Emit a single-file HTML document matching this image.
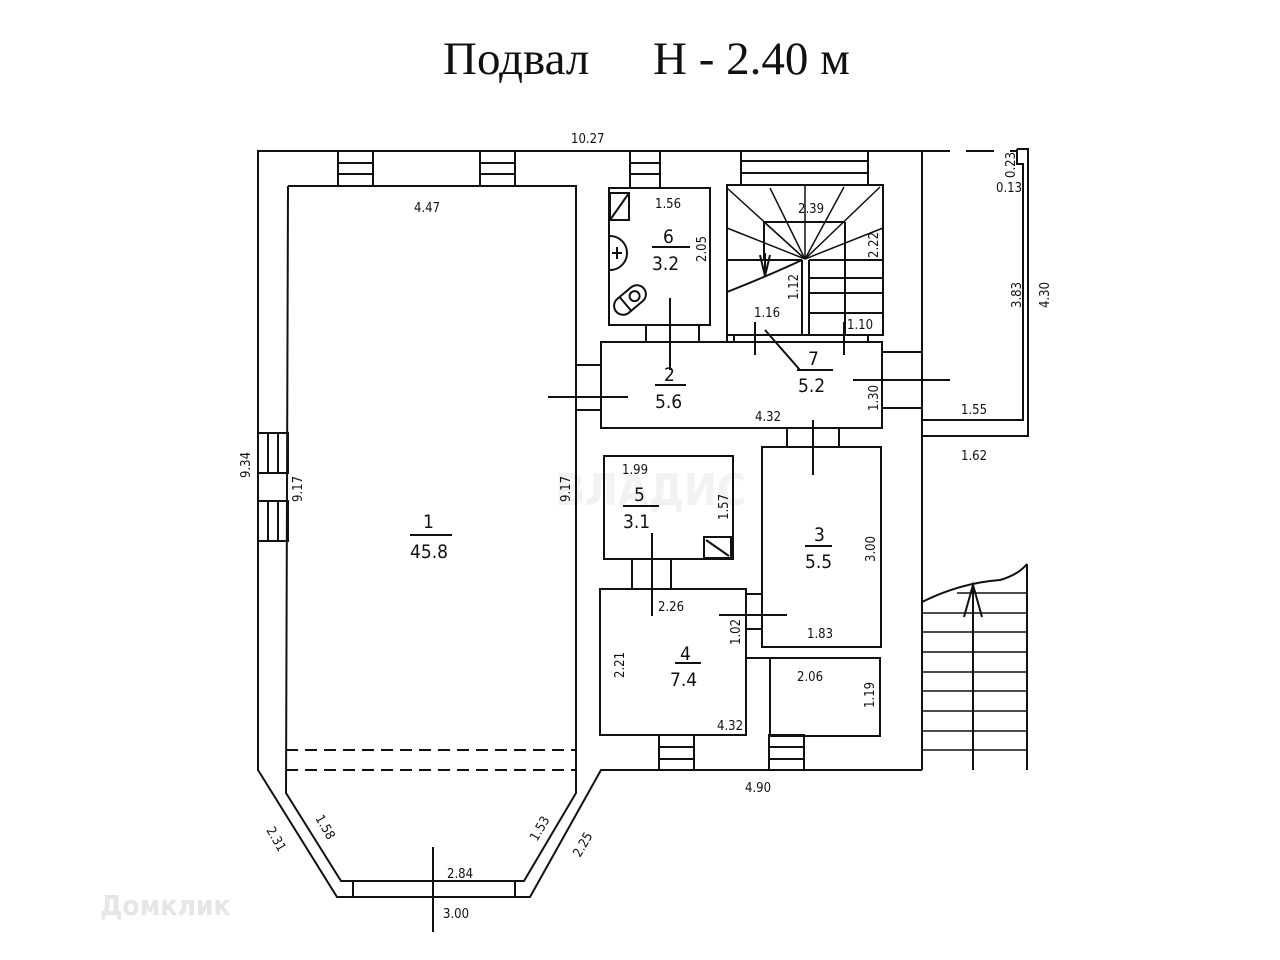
<!DOCTYPE html>
<html><head><meta charset="utf-8"><style>
html,body{margin:0;padding:0;background:#fff;}
svg{display:block;}
text{font-family:"DejaVu Sans Condensed","DejaVu Sans","Liberation Sans",sans-serif;font-size:13px;fill:#111;}
.big{font-size:19px;}
.t{font-family:"Liberation Serif",serif;font-size:47px;}
</style></head><body>
<svg width="1280" height="960" viewBox="0 0 1280 960" xmlns="http://www.w3.org/2000/svg">
<text x="555" y="505" style="font-size:44px;fill:#f2f2f2;font-weight:bold">ВЛАДИС</text>
<text x="100" y="915" style="font-size:28px;fill:#e6e6e6;font-weight:bold">Домклик</text>
<g stroke="#111" stroke-width="2" fill="none">
<polyline points="922,151 258,151 258,770 337,897 530,897 601,770 922,770"/>
<line x1="922" y1="151" x2="1017" y2="151" stroke-dasharray="28,16"/>
<polyline points="1017,149 1028,149 1028,436 922,436"/>
<polyline points="1017,149 1017,164 1023,164 1023,420 922,420"/>
<line x1="922" y1="151" x2="922" y2="770"/>
<polyline points="288,186 576,186 576,793 524,881 341,881 286,793 288,186"/>
<line x1="353" y1="881" x2="353" y2="897"/><line x1="515" y1="881" x2="515" y2="897"/>
<line x1="286" y1="750" x2="576" y2="750" stroke-dasharray="12,7"/>
<line x1="286" y1="770" x2="576" y2="770" stroke-dasharray="12,7"/>
<line x1="433" y1="847" x2="433" y2="932"/>
<rect x="338" y="151" width="35" height="35"/><line x1="338" y1="163" x2="373" y2="163"/><line x1="338" y1="174" x2="373" y2="174"/>
<rect x="480" y="151" width="35" height="35"/><line x1="480" y1="163" x2="515" y2="163"/><line x1="480" y1="174" x2="515" y2="174"/>
<rect x="630" y="151" width="30" height="37"/><line x1="630" y1="163" x2="660" y2="163"/><line x1="630" y1="174" x2="660" y2="174"/>
<rect x="741" y="151" width="127" height="34"/><line x1="741" y1="161" x2="868" y2="161"/><line x1="741" y1="173" x2="868" y2="173"/>
<rect x="258" y="433" width="30" height="40"/><line x1="268" y1="433" x2="268" y2="473"/><line x1="278" y1="433" x2="278" y2="473"/>
<rect x="258" y="501" width="30" height="40"/><line x1="268" y1="501" x2="268" y2="541"/><line x1="278" y1="501" x2="278" y2="541"/>
<rect x="609" y="188" width="101" height="137"/>
<rect x="610" y="193" width="19" height="27"/><line x1="610" y1="220" x2="629" y2="193"/>
<path d="M610 236 A12 12 0 0 1 610 270"/><line x1="612" y1="253" x2="622" y2="253"/><line x1="617" y1="247" x2="617" y2="259"/>
<g transform="translate(630,300) rotate(-40)"><rect x="-18" y="-9" width="36" height="18" rx="9"/><line x1="-6" y1="-9" x2="-6" y2="9"/><circle cx="6" cy="0" r="5"/></g>
<line x1="670" y1="298" x2="670" y2="370"/>
<rect x="646" y="325" width="53" height="17"/>
<rect x="601" y="342" width="281" height="86"/>
<polyline points="601,365 576,365"/><polyline points="601,410 576,410"/>
<line x1="548" y1="397" x2="628" y2="397"/>
<rect x="727" y="185" width="156" height="150"/>
<line x1="764" y1="222" x2="845" y2="222"/><line x1="764" y1="222" x2="764" y2="260"/><line x1="845" y1="222" x2="845" y2="335"/>
<line x1="727" y1="260" x2="802" y2="260"/><line x1="809" y1="260" x2="883" y2="260"/>
<line x1="809" y1="293" x2="883" y2="293"/><line x1="809" y1="313" x2="883" y2="313"/>
<line x1="802" y1="260" x2="802" y2="335"/><line x1="809" y1="260" x2="809" y2="335"/>
<line x1="809" y1="278" x2="883" y2="278"/>
<g stroke-width="1.5">
<line x1="805" y1="259" x2="727" y2="188"/><line x1="805" y1="259" x2="770" y2="188"/><line x1="805" y1="259" x2="805" y2="185"/>
<line x1="805" y1="259" x2="844" y2="187"/><line x1="805" y1="259" x2="880" y2="187"/><line x1="805" y1="259" x2="883" y2="228"/>
<line x1="805" y1="259" x2="727" y2="228"/><line x1="805" y1="259" x2="764" y2="222"/>
</g>
<path d="M727 292 Q770 275 802 260"/>
<line x1="765" y1="253" x2="765" y2="276"/><polyline points="760,255 765,276 770,255"/>
<line x1="755" y1="322" x2="755" y2="355"/><line x1="844" y1="322" x2="844" y2="355"/>
<polyline points="765,330 800,370 831,370"/>
<line x1="727" y1="335" x2="727" y2="342"/><line x1="734" y1="335" x2="734" y2="342"/><line x1="868" y1="335" x2="868" y2="342"/>
<line x1="882" y1="352" x2="922" y2="352"/><line x1="882" y1="408" x2="922" y2="408"/>
<line x1="853" y1="380" x2="950" y2="380"/>
<rect x="762" y="447" width="119" height="200"/>
<rect x="787" y="428" width="52" height="19"/>
<line x1="813" y1="420" x2="813" y2="475"/>
<rect x="604" y="456" width="129" height="103"/>
<rect x="704" y="537" width="27" height="21"/><line x1="706" y1="540" x2="729" y2="556"/>
<rect x="632" y="559" width="39" height="30"/>
<line x1="652" y1="533" x2="652" y2="616"/>
<rect x="600" y="589" width="146" height="146"/>
<rect x="746" y="594" width="16" height="35"/>
<line x1="719" y1="615" x2="787" y2="615"/>
<line x1="746" y1="658" x2="880" y2="658"/>
<rect x="770" y="658" width="110" height="78"/>
<rect x="659" y="735" width="35" height="35"/><line x1="659" y1="747" x2="694" y2="747"/><line x1="659" y1="759" x2="694" y2="759"/>
<rect x="769" y="735" width="35" height="35"/><line x1="769" y1="747" x2="804" y2="747"/><line x1="769" y1="759" x2="804" y2="759"/>
<path d="M922 602 Q960 583 1000 580 Q1018 575 1027 564"/>
<line x1="1027" y1="564" x2="1027" y2="770"/>
<g stroke-width="1.5">
<line x1="957" y1="593" x2="1027" y2="593"/>
<line x1="922" y1="613" x2="1027" y2="613"/><line x1="922" y1="632" x2="1027" y2="632"/><line x1="922" y1="652" x2="1027" y2="652"/>
<line x1="922" y1="672" x2="1027" y2="672"/><line x1="922" y1="691" x2="1027" y2="691"/><line x1="922" y1="711" x2="1027" y2="711"/>
<line x1="922" y1="731" x2="1027" y2="731"/><line x1="922" y1="750" x2="1027" y2="750"/>
</g>
<line x1="973" y1="585" x2="973" y2="770"/><polyline points="964,617 973,585 982,617"/>
<line x1="410" y1="535" x2="452" y2="535"/>
<line x1="652" y1="247" x2="690" y2="247"/>
<line x1="655" y1="385" x2="686" y2="385"/>
<line x1="797" y1="370" x2="833" y2="370"/>
<line x1="623" y1="506" x2="659" y2="506"/>
<line x1="805" y1="546" x2="832" y2="546"/>
<line x1="675" y1="663" x2="701" y2="663"/>
</g>
<text class="t" x="443" y="74">Подвал</text><text class="t" x="653" y="74">Н - 2.40 м</text>
<text x="571" y="143">10.27</text>
<text x="414" y="212">4.47</text>
<text class="big" x="423" y="528">1</text><text class="big" x="410" y="558">45.8</text>
<text class="big" x="663" y="243">6</text><text class="big" x="652" y="270">3.2</text>
<text x="655" y="208">1.56</text>
<text x="798" y="213">2.39</text>
<text class="big" x="664" y="381">2</text><text class="big" x="655" y="408">5.6</text>
<text x="755" y="421">4.32</text>
<text x="754" y="317">1.16</text><text x="847" y="329">1.10</text>
<text class="big" x="808" y="365">7</text><text class="big" x="798" y="392">5.2</text>
<text x="961" y="414">1.55</text><text x="961" y="460">1.62</text>
<text x="622" y="474">1.99</text>
<text class="big" x="634" y="501">5</text><text class="big" x="623" y="528">3.1</text>
<text class="big" x="814" y="541">3</text><text class="big" x="805" y="568">5.5</text>
<text x="807" y="638">1.83</text>
<text x="658" y="611">2.26</text>
<text class="big" x="680" y="660">4</text><text class="big" x="670" y="686">7.4</text>
<text x="717" y="730">4.32</text>
<text x="797" y="681">2.06</text>
<text x="745" y="792">4.90</text>
<text x="447" y="878">2.84</text>
<text x="443" y="918">3.00</text>
<g>
<text transform="translate(250,478) rotate(-90)">9.34</text>
<text transform="translate(302,502) rotate(-90)">9.17</text>
<text transform="translate(570,502) rotate(-90)">9.17</text>
<text transform="translate(706,262) rotate(-90)">2.05</text>
<text transform="translate(798,300) rotate(-90)">1.12</text>
<text transform="translate(878,258) rotate(-90)">2.22</text>
<text transform="translate(878,411) rotate(-90)">1.30</text>
<text transform="translate(728,520) rotate(-90)">1.57</text>
<text transform="translate(875,562) rotate(-90)">3.00</text>
<text transform="translate(740,645) rotate(-90)">1.02</text>
<text transform="translate(624,678) rotate(-90)">2.21</text>
<text transform="translate(874,708) rotate(-90)">1.19</text>
<text transform="translate(1021,308) rotate(-90)">3.83</text>
<text transform="translate(1049,308) rotate(-90)">4.30</text>
<text transform="translate(1015,178) rotate(-90)">0.23</text>
<text x="996" y="192">0.13</text>
<text transform="translate(266,830) rotate(60)">2.31</text>
<text transform="translate(315,818) rotate(60)">1.58</text>
<text transform="translate(537,842) rotate(-60)">1.53</text>
<text transform="translate(580,858) rotate(-60)">2.25</text>
</g>
</svg>
</body></html>
